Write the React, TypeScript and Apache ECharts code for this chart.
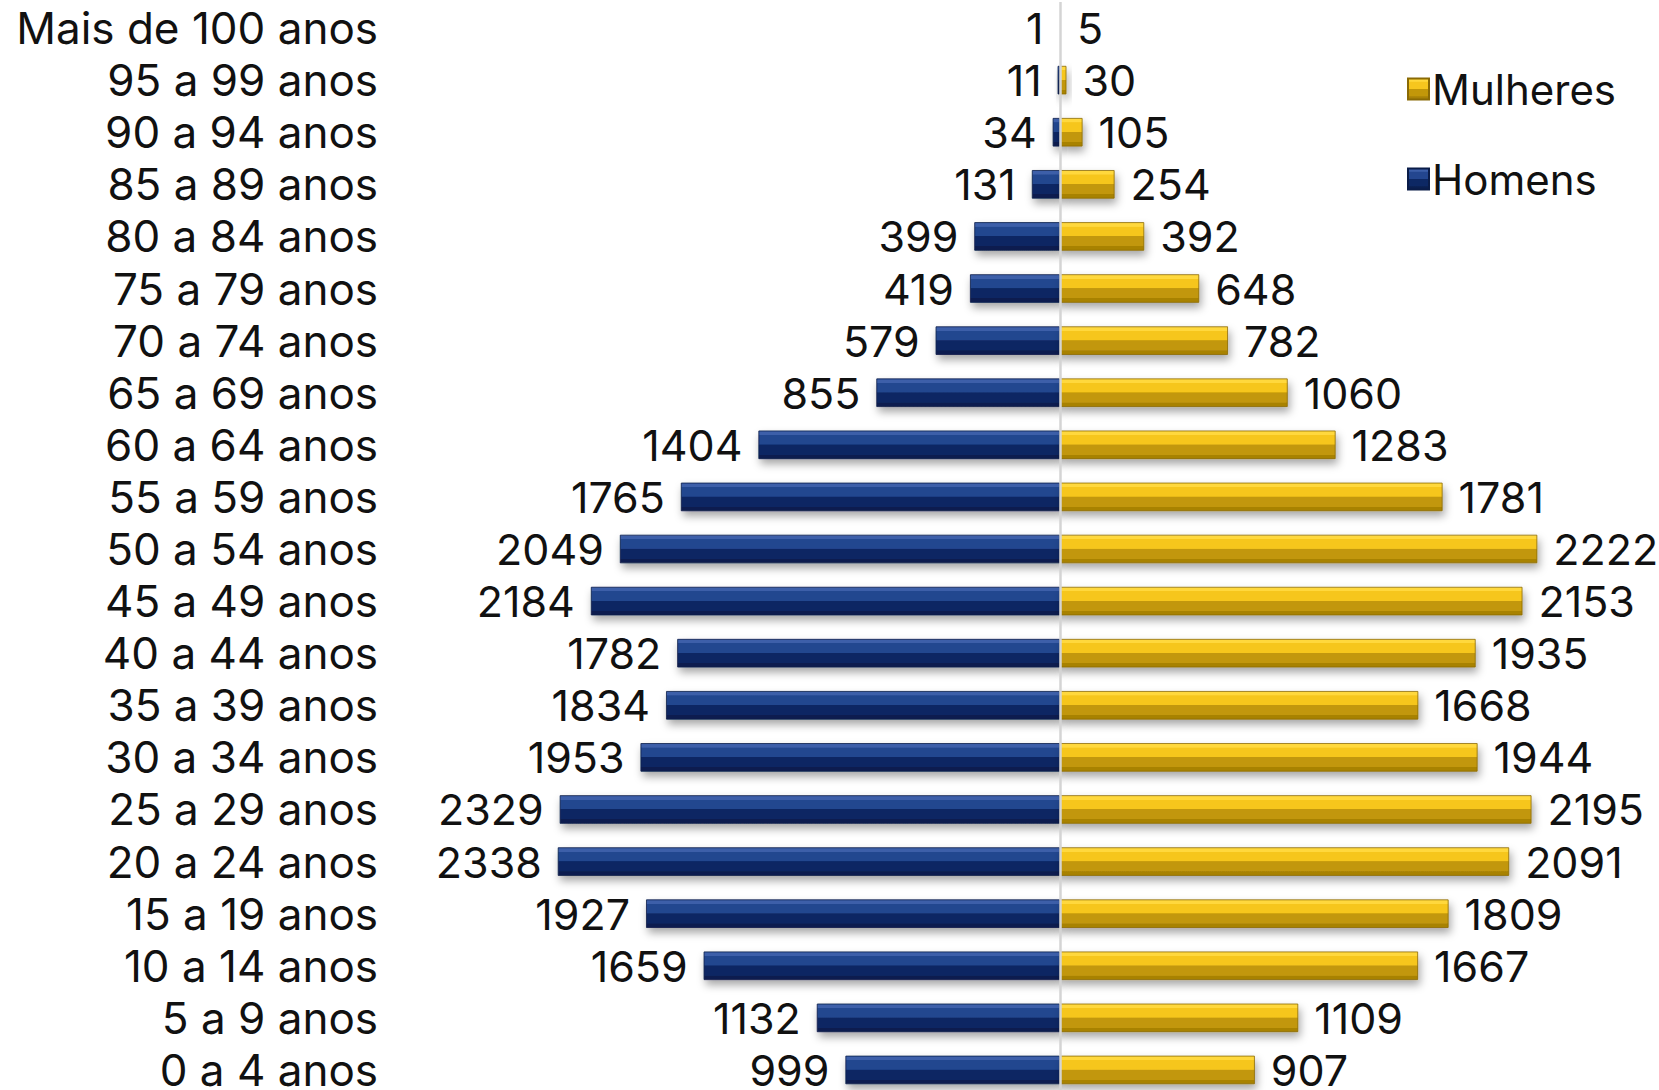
import React, { useEffect, useRef } from "react";
import * as echarts from "echarts";

const categories = [
  "Mais de 100 anos", "95 a 99 anos", "90 a 94 anos", "85 a 89 anos", "80 a 84 anos",
  "75 a 79 anos", "70 a 74 anos", "65 a 69 anos", "60 a 64 anos", "55 a 59 anos",
  "50 a 54 anos", "45 a 49 anos", "40 a 44 anos", "35 a 39 anos", "30 a 34 anos",
  "25 a 29 anos", "20 a 24 anos", "15 a 19 anos", "10 a 14 anos", "5 a 9 anos", "0 a 4 anos",
];
const homens = [1, 11, 34, 131, 399, 419, 579, 855, 1404, 1765, 2049, 2184, 1782, 1834, 1953, 2329, 2338, 1927, 1659, 1132, 999];
const mulheres = [5, 30, 105, 254, 392, 648, 782, 1060, 1283, 1781, 2222, 2153, 1935, 1668, 1944, 2195, 2091, 1809, 1667, 1109, 907];

const FONT = "Inter";

const grad = (c: string[]) =>
  new echarts.graphic.LinearGradient(0, 0, 0, 1, [
    { offset: 0, color: c[0] },
    { offset: 0.14, color: c[0] },
    { offset: 0.15, color: c[1] },
    { offset: 0.48, color: c[1] },
    { offset: 0.5, color: c[2] },
    { offset: 0.85, color: c[2] },
    { offset: 0.86, color: c[3] },
    { offset: 1, color: c[3] },
  ]);

const yellow = ["#ffd83c", "#f6c61e", "#c29709", "#a88206"];
const blue = ["#3c5fa9", "#23468f", "#0d2864", "#0a1f50"];

export default function App() {
  const ref = useRef<HTMLDivElement>(null);
  useEffect(() => {
    const chart = echarts.init(ref.current!, null, { renderer: "svg" });
    const labelStyle = { fontFamily: FONT, fontSize: 43, color: "#111", lineHeight: 36 };
    chart.setOption({
      animation: false,
      backgroundColor: "#fff",
      grid: {
        left: 523,
        right: 62,
        top: 2,
        height: 1094,
        containLabel: false,
        outerBoundsMode: "none",
      },
      xAxis: {
        type: "value",
        min: -2500,
        max: 2500,
        show: false,
      },
      yAxis: {
        type: "category",
        data: categories,
        inverse: true,
        axisLine: { show: false },
        axisTick: { show: false },
        splitLine: { show: false },
        axisLabel: { interval: 0, margin: 145, ...labelStyle, fontSize: 44 },
      },
      legend: {
        orient: "vertical",
        left: 1402,
        top: 59,
        data: ["Mulheres", "Homens"],
        icon: "rect",
        itemWidth: 21,
        itemHeight: 21,
        itemGap: 40,
        textStyle: { ...labelStyle, fontSize: 42, lineHeight: 50, padding: [0, 0, 0, -2] },
      },
      series: [
        {
          name: "Homens",
          type: "bar",
          data: homens.map((v) => -v),
          barWidth: 28.5,
          barGap: "-100%",
          itemStyle: {
            color: grad(blue),
            borderColor: "#0a1c48",
            borderWidth: 0.8,
            shadowColor: "rgba(0,0,0,0.35)",
            shadowBlur: 8,
            shadowOffsetX: 2,
            shadowOffsetY: 5,
          },
          label: {
            show: true,
            position: "left",
            distance: 16,
            formatter: (p: any) => String(Math.abs(p.value)),
            ...labelStyle,
          },
          markLine: {
            silent: true,
            symbol: "none",
            label: { show: false },
            lineStyle: { color: "#d4d4d4", width: 2.5, type: "solid" },
            data: [{ xAxis: 0 }],
            z: 10,
          },
        },
        {
          name: "Mulheres",
          type: "bar",
          data: mulheres,
          barWidth: 28.5,
          itemStyle: {
            color: grad(yellow),
            borderColor: "#8a6a05",
            borderWidth: 0.8,
            shadowColor: "rgba(0,0,0,0.35)",
            shadowBlur: 8,
            shadowOffsetX: 2,
            shadowOffsetY: 5,
          },
          label: {
            show: true,
            position: "right",
            distance: 16,
            ...labelStyle,
          },
        },
      ],
    });
    return () => chart.dispose();
  }, []);
  return (
    <div
      ref={ref}
      style={{ position: "fixed", left: 0, top: 0, width: 1659, height: 1090 }}
    />
  );
}
